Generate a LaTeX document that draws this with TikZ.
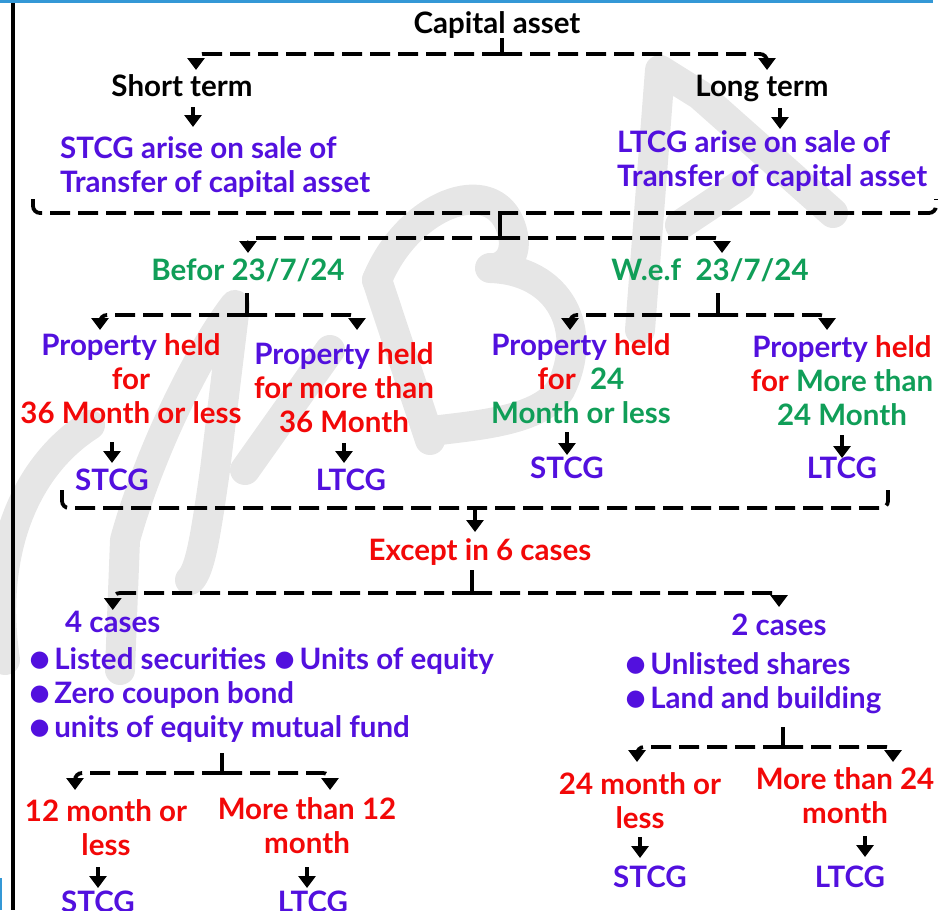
\documentclass[tikz,border=0pt]{standalone}
\usepackage{fontspec}
\setmainfont{Lato}
\usepackage{xcolor}
\definecolor{CaseViolet}{RGB}{82,16,222}
\definecolor{DateGreen}{RGB}{16,158,88}
\definecolor{HeldRed}{RGB}{242,8,8}
\definecolor{MarkGray}{RGB}{230,230,230}
\definecolor{FrameBlue}{RGB}{52,152,214}
\usetikzlibrary{arrows.meta,positioning}

\newcommand{\vio}[1]{\textcolor{CaseViolet}{#1}}
\newcommand{\hred}[1]{\textcolor{HeldRed}{#1}}
\newcommand{\grn}[1]{\textcolor{DateGreen}{#1}}
\newcommand{\listdot}{\raisebox{-3.5pt}{\scalebox{1.35}{\textbullet}}\hspace{3pt}}

\begin{document}
\begin{tikzpicture}[
  x=1pt, y=-1pt,
  font=\fontsize{29.5}{34}\selectfont\bfseries,
  term/.style={inner sep=0pt, align=center, anchor=base},
  termleft/.style={inner sep=0pt, align=left, anchor=base west},
  stem/.style={line width=3.8pt},
  down/.style={
    line width=3.8pt,
    -{Triangle[length=12pt,width=17pt]}},
  fork/.style={
    line width=3.8pt,
    dash pattern=on 20pt off 8pt,
    rounded corners=7pt,
    -{Triangle[length=12pt,width=17pt]}},
  brace/.style={
    line width=3.8pt,
    dash pattern=on 20pt off 8pt,
    rounded corners=7pt},
  wmark/.style={
    MarkGray, line width=30pt,
    line cap=round, line join=round}
]
\useasboundingbox (0,0) rectangle (939,910);

% watermark
\draw[wmark] (90,425) .. controls (20,470) and (-10,560) .. (5,660);
\draw[wmark] (120,670) -- (125,540) .. controls (150,450) and (200,350) .. (235,305)
  -- (215,470) .. controls (205,540) and (200,570) .. (190,580);
\draw[wmark] (245,470) -- (330,350);
\draw[wmark] (377,280) -- (430,440);
\draw[wmark] (377,280) .. controls (410,200) and (500,170) .. (513,235)
  .. controls (518,260) and (500,270) .. (490,268)
  .. controls (560,270) and (590,330) .. (560,390)
  .. controls (540,420) and (480,425) .. (440,430);
\draw[wmark] (640,330) -- (660,70) -- (700,95) -- (833,213);
\draw[wmark] (680,225) -- (740,185);

% frame
\fill[FrameBlue] (0,0) rectangle (933,3);
\draw[line width=4pt] (13,3) -- (13,910);
\draw[FrameBlue, line width=1.5pt] (1,878) -- (1,910);

% texts (multi-line nodes sit on their last baseline)
\node[term] (cap) at (497,33) {Capital asset};
\node[term] (st) at (182,96) {Short term};
\node[term] (lt) at (762,96) {Long term};
\node[termleft, CaseViolet] (stdesc) at (60,192)
  {STCG arise on sale of\\Transfer of capital asset};
\node[termleft, CaseViolet] (ltdesc) at (617,186)
  {LTCG arise on sale of\\Transfer of capital asset};
\node[term, DateGreen] (bef) at (248,280) {Befor 23/7/24};
\node[term, DateGreen] (wef) at (710,280) {W.e.f\ \ 23/7/24};
\node[term] (p36l) at (131,423)
  {\vio{Property} \hred{held}\\\hred{for}\\\hred{36 Month or less}};
\node[term] (p36m) at (344,432)
  {\vio{Property} \hred{held}\\\hred{for more than}\\\hred{36 Month}};
\node[term] (p24l) at (581,423)
  {\vio{Property} \hred{held}\\\hred{for}\ \ \grn{24}\\\grn{Month or less}};
\node[term] (p24m) at (842,425)
  {\vio{Property} \hred{held}\\\hred{for} \grn{More than}\\\grn{24 Month}};
\node[term, CaseViolet] (bst) at (112,490) {STCG};
\node[term, CaseViolet] (blt) at (351,490) {LTCG};
\node[term, CaseViolet] (wst) at (567,478) {STCG};
\node[term, CaseViolet] (wlt) at (842,478) {LTCG};
\node[term, HeldRed] (exc) at (480,560) {Except in 6 cases};
\node[termleft, CaseViolet] (four) at (65,632) {4 cases};
\node[termleft, CaseViolet] (fourlist) at (28,737)
  {\listdot Listed securities \listdot Units of equity\\
   \listdot Zero coupon bond\\
   \listdot units of equity mutual fund};
\node[term, CaseViolet] (two) at (779,635) {2 cases};
\node[termleft, CaseViolet] (twolist) at (624,708)
  {\listdot Unlisted shares\\\listdot Land and building};
\node[term, HeldRed] (m12l) at (106,855) {12 month or\\less};
\node[term, HeldRed] (m12m) at (307,853) {More than 12\\month};
\node[term, CaseViolet] (m12st) at (98,912) {STCG};
\node[term, CaseViolet] (m12lt) at (313,912) {LTCG};
\node[term, HeldRed] (m24l) at (640,828) {24 month or\\less};
\node[term, HeldRed] (m24m) at (845,823) {More than 24\\month};
\node[term, CaseViolet] (m24st) at (650,887) {STCG};
\node[term, CaseViolet] (m24lt) at (850,887) {LTCG};

% junctions and brace ends
\coordinate (j1) at (502,54);
\coordinate (b1l) at (33,199);
\coordinate (b1m) at (500,213);
\coordinate (b1r) at (936,199);
\coordinate (j2) at (500,238);
\coordinate (j3) at (247,315);
\coordinate (j4) at (718,315);
\coordinate (b2l) at (62,490);
\coordinate (b2m) at (475,508);
\coordinate (b2r) at (888,490);
\coordinate (j5) at (472,593);
\coordinate (j6) at (222,773);
\coordinate (j7) at (783,747);

% capital asset
\draw[stem, shorten <=5pt] (cap.base -| j1) -- (j1);
\draw[fork, shorten >=26pt] (j1) -| ([xshift=14pt]st.base);
\draw[fork, shorten >=26pt] (j1) -| ([xshift=5pt]lt.base);
\draw[down, shorten <=11pt, shorten >=65pt]
  ([xshift=11pt]st.base) -- ([xshift=11pt]st.base |- stdesc.base);
\draw[down, shorten <=12pt, shorten >=57pt]
  ([xshift=18pt]lt.base) -- ([xshift=18pt]lt.base |- ltdesc.base);

% before / with effect from
\draw[brace] (b1l) |- (b1m) -| (b1r);
\draw[stem] (b1m) -- (j2);
\draw[fork, shorten >=27pt] (j2) -| (bef.base);
\draw[fork, shorten >=27pt] (j2) -| ([xshift=12pt]wef.base);

\draw[stem, shorten <=13pt] (bef.base -| j3) -- (j3);
\draw[fork, shorten >=93pt] (j3) -| ([xshift=-31pt]p36l.base);
\draw[fork, shorten >=102pt] (j3) -| ([xshift=13pt]p36m.base);
\draw[stem, shorten <=13pt] (wef.base -| j4) -- (j4);
\draw[fork, shorten >=93pt] (j4) -| ([xshift=-11pt]p24l.base);
\draw[fork, shorten >=95pt] (j4) -| ([xshift=-15pt]p24m.base);

\draw[down, shorten <=19pt, shorten >=27pt] (bst |- p36l.base) -- (bst.base);
\draw[down, shorten <=11pt, shorten >=27pt] (p36m.base) -- (p36m.base |- blt.base);
\draw[down, shorten <=9pt, shorten >=23pt] (wst |- p24l.base) -- (wst.base);
\draw[down, shorten <=10pt, shorten >=20pt] (p24m.base) -- (wlt.base);

% exceptions
\draw[brace] (b2l) |- (b2m) -| (b2r);
\draw[down, shorten >=28pt] (b2m) -- (b2m |- exc.base);
\draw[stem, shorten <=10pt] (exc.base -| j5) -- (j5);
\draw[fork, shorten >=22pt] (j5) -| (four.base);
\draw[fork, shorten >=28pt] (j5) -| (two.base);

\draw[stem, shorten <=16pt] (fourlist.base -| j6) -- (j6);
\draw[fork, shorten >=65pt] (j6) -| ([xshift=-31pt]m12l.base);
\draw[fork, shorten >=63pt] (j6) -| ([xshift=23pt]m12m.base);
\draw[down, shorten <=12pt, shorten >=24pt] (m12st |- m12l.base) -- (m12st.base);
\draw[down, shorten <=14pt, shorten >=24pt] (m12m.base) -- (m12m.base |- m12lt.base);

\draw[stem, shorten <=19pt] (twolist.base -| j7) -- (j7);
\draw[fork, shorten >=66pt] (j7) -| ([xshift=-3pt]m24l.base);
\draw[fork, shorten >=61pt] (j7) -| ([xshift=48pt]m24m.base);
\draw[down, shorten <=9pt, shorten >=29pt] (m24l.base) -- (m24l.base |- m24st.base);
\draw[down, shorten <=13pt, shorten >=30pt]
  ([xshift=20pt]m24m.base) -- ([xshift=20pt]m24m.base |- m24lt.base);
\end{tikzpicture}
\end{document}
